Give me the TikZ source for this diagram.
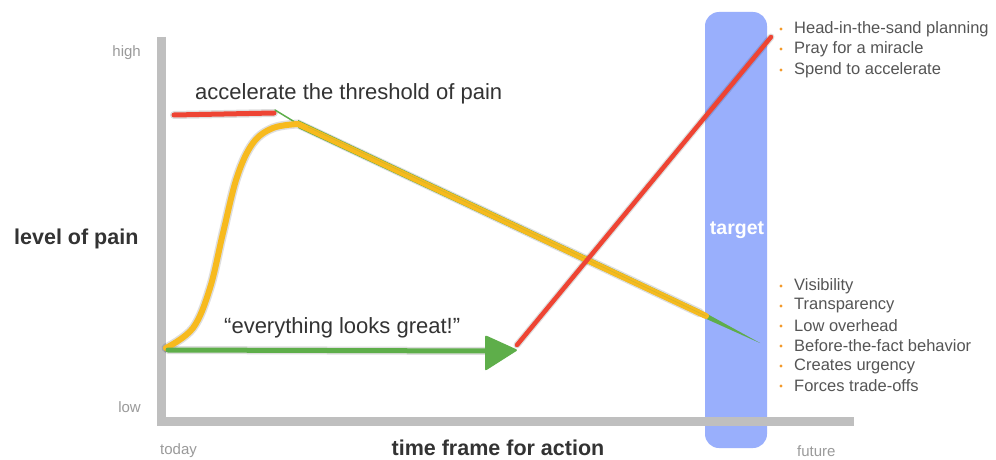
\documentclass[tikz,border=0pt]{standalone}
\usepackage{fontspec}
\setmainfont{Liberation Sans}
\usetikzlibrary{calc}
\definecolor{axisgray}{HTML}{BFBFBF}
\definecolor{tickgray}{HTML}{9A9A9A}
\definecolor{maintext}{HTML}{333333}
\definecolor{bullettext}{HTML}{555555}
\definecolor{bulletorange}{HTML}{F39A2B}
\definecolor{targetblue}{HTML}{99AFFC}
\definecolor{penyellow}{HTML}{F7BA1E}
\definecolor{pengreen}{HTML}{5EAE4A}
\definecolor{penred}{HTML}{EE4433}
\tikzset{
  ticklbl/.style={text=tickgray, font=\fontsize{15}{18}\selectfont, inner sep=0pt},
  axislbl/.style={text=maintext, font=\bfseries\fontsize{21.5}{24}\selectfont, inner sep=0pt},
  notelbl/.style={text=maintext, font=\fontsize{22}{26}\selectfont, inner sep=0pt},
  bulletlbl/.style={text=bullettext, font=\fontsize{16.5}{20}\selectfont, inner sep=0pt, anchor=west},
  bulletdot/.style={fill=bulletorange, circle, inner sep=0pt, minimum size=3.2pt},
  axisbar/.style={draw=axisgray, line width=9pt},
  shadowline/.style={draw=black, opacity=0.13, line cap=round},
  pen/.style={line cap=round, line join=round}
}
\begin{document}
\begin{tikzpicture}[x=1pt,y=-1pt]
\useasboundingbox (0,0) rectangle (996,460);
\fill[white] (0,0) rectangle (996,460);

% target bar
\node[fill=targetblue, rounded corners=14pt, minimum width=62pt, minimum height=436pt, inner sep=0pt] (target) at (736,230) {};
\node[text=white, font=\bfseries\fontsize{19.5}{22}\selectfont, inner sep=0pt] (targetlbl) at (737,230) {target};

% axes
\coordinate (ytop) at (161,37);
\coordinate (origin) at (161,421);
\coordinate (xend) at (854,421);
\draw[axisbar] (ytop) -- (origin) -- (xend);

% axis labels
\node[ticklbl, anchor=east] (high) at (141,53) {high};
\node[ticklbl, anchor=east] (low) at (141,407) {low};
\node[ticklbl, anchor=west] (today) at (160,451) {today};
\node[ticklbl, anchor=west] (future) at (797,451) {future};
\node[axislbl] (xlbl) at (498,448) {time frame for action};
\node[axislbl, anchor=west] (ylbl) at (14,239) {level of pain};

% annotations
\node[notelbl, anchor=west] (accel) at (195,94) {accelerate the threshold of pain};
\node[notelbl, anchor=west] (great) at (224,328) {“everything looks great!”};

% key points
\coordinate (s0) at (166,348);
\coordinate (s1) at (193,328);
\coordinate (s2) at (210,288);
\coordinate (s3) at (223,233);
\coordinate (s4) at (237,177);
\coordinate (s5) at (253,143);
\coordinate (s6) at (273,128);
\coordinate (peak) at (298,124);
\coordinate (yend) at (706,316);
\coordinate (gmid) at (700,313);
\coordinate (gend) at (760,343);
\coordinate (gtip) at (275,110);
\coordinate (r1a) at (174,115);
\coordinate (r1b) at (274,113);
\coordinate (ga) at (168,350);
\coordinate (gb) at (488,351);
\coordinate (ra) at (517,345);
\coordinate (rb) at (771,37);

% shadows
\begin{scope}[shift={(2,5)}]
  \draw[shadowline, line width=9pt] plot[smooth, tension=0.6] coordinates {(s0) (s1) (s2) (s3) (s4) (s5) (s6) (peak)} -- (gmid);
  \fill[black, opacity=0.10] ($(gmid)+(-2,-4)$) -- ($(gmid)+(2,4)$) -- (gend) -- cycle;
  \draw[shadowline, line width=8pt] (ga) -- (gb);
  \draw[shadowline, line width=8pt] (r1a) -- (r1b);
  \draw[shadowline, line width=7pt] (ra) -- (rb);
\end{scope}

% red short line
\draw[pen, penred, line width=5pt] (r1a) -- (r1b);
% green tip near peak
\draw[pen, pengreen, line width=1.5pt] (gtip) -- (peak);
% green under yellow along decline, tapering
\fill[pengreen] ($(peak)+(0,-4)$) -- ($(peak)+(0,4)$) -- ($(gmid)+(1,3.5)$) -- (gend) -- ($(gmid)+(-1,-3.5)$) -- cycle;
% yellow curve
\draw[pen, penyellow, line width=6pt] plot[smooth, tension=0.6] coordinates {(s0) (s1) (s2) (s3) (s4) (s5) (s6) (peak)} -- (yend);
\draw[penyellow!60!pengreen, line width=0.6pt, opacity=0.6] ($(peak)+(10,3)$) -- (yend);

% green horizontal arrow
\draw[pen, pengreen, line width=5pt] (ga) -- (gb);
\fill[pengreen, rounded corners=2pt] (485,335) -- (518,350) -- (485,371) -- cycle;
\node[inner sep=0pt] (arrowtip) at (518,350) {};

% red diagonal
\draw[pen, penred, line width=4.5pt] (ra) -- (rb);

% bullet lists
\foreach \y/\t [count=\i] in {29/Head-in-the-sand planning, 49/Pray for a miracle, 70/Spend to accelerate} {
  \node[bulletdot] (ba\i) at (781,\y) {};
  \node[bulletlbl] (ta\i) at (794,\y) {\t};
}
\foreach \y/\t [count=\i] in {286/Visibility, 306/Transparency, 326/Low overhead, 346/Before-the-fact behavior, 366/Creates urgency, 386/Forces trade-offs} {
  \node[bulletdot] (bb\i) at (781,\y) {};
  \node[bulletlbl] (tb\i) at (794,\y) {\t};
}
\end{tikzpicture}
\end{document}
